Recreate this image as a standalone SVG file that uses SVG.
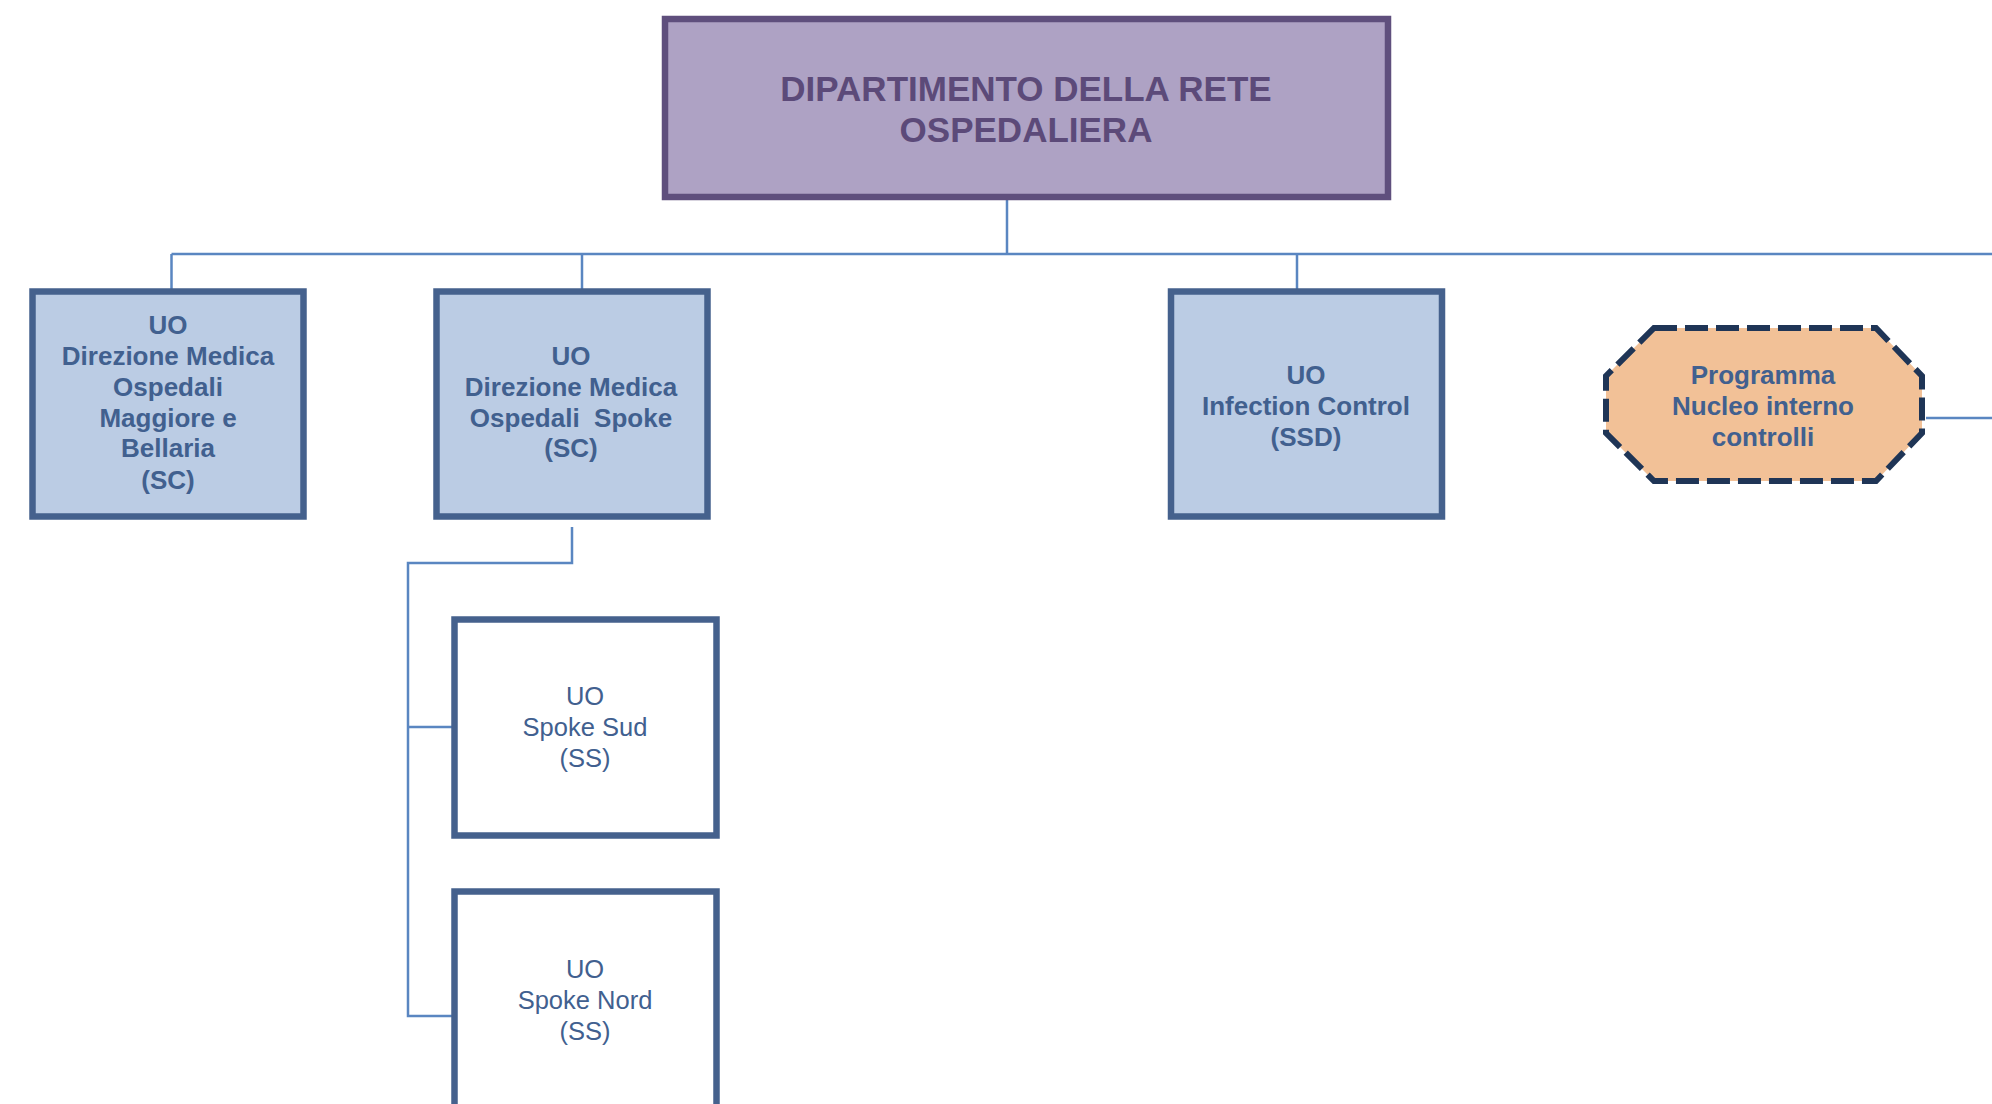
<svg xmlns="http://www.w3.org/2000/svg" width="1992" height="1104" viewBox="0 0 1992 1104">
<style>
.conn{fill:none;stroke:#5A86C1;stroke-width:2.5}
.box{fill:#BBCCE4;stroke:#45618D;stroke-width:6.5}
.wbox{fill:#FFFFFF;stroke:#45618D;stroke-width:6.5}
.t{font-family:"Liberation Sans",Arial,sans-serif;text-anchor:middle;fill:#41608F}
.tp{font-family:"Liberation Sans",Arial,sans-serif;text-anchor:middle;fill:#5C4A79;font-weight:bold;font-size:35px}
.b{font-weight:bold;font-size:26px}
.r{font-size:25.5px}
</style>
<rect width="1992" height="1104" fill="#FFFFFF"/>
<g id="connectors">
<path class="conn" d="M1007 199V254"/>
<path class="conn" d="M171.5 254H1992"/>
<path class="conn" d="M171.5 254V290M582 254V290M1297 254V290"/>
<path class="conn" d="M572 527V563H408V1016H452M408 727H452"/>
<path class="conn" d="M1926 418H1992"/>
</g>
<g id="dipartimento">
<rect x="665" y="19" width="723" height="178" fill="#AEA2C4" stroke="#5F4F7D" stroke-width="6.5"/>
<text class="tp" x="1026" y="101">DIPARTIMENTO DELLA RETE</text>
<text class="tp" x="1026" y="142">OSPEDALIERA</text>
</g>
<g id="dm-maggiore">
<rect class="box" x="32.5" y="291.5" width="271" height="225"/>
<text class="t b" x="168"><tspan x="168" y="334">UO</tspan><tspan x="168" y="365">Direzione Medica</tspan><tspan x="168" y="396">Ospedali</tspan><tspan x="168" y="427">Maggiore e</tspan><tspan x="168" y="457">Bellaria</tspan><tspan x="168" y="489">(SC)</tspan></text>
</g>
<g id="dm-spoke">
<rect class="box" x="436.5" y="291.5" width="271" height="225"/>
<text class="t b" x="571" xml:space="preserve"><tspan x="571" y="365">UO</tspan><tspan x="571" y="396">Direzione Medica</tspan><tspan x="571" y="427">Ospedali  Spoke</tspan><tspan x="571" y="457">(SC)</tspan></text>
</g>
<g id="infection-control">
<rect class="box" x="1171" y="291.5" width="271" height="225"/>
<text class="t b" x="1306"><tspan x="1306" y="384">UO</tspan><tspan x="1306" y="415">Infection Control</tspan><tspan x="1306" y="446">(SSD)</tspan></text>
</g>
<g id="nucleo-controlli">
<polygon points="1654,328 1876,328 1922,376 1922,433 1876,481 1654,481 1606,433 1606,376" fill="#F2C197" stroke="#1F3556" stroke-width="6" stroke-dasharray="23 8"/>
<text class="t b" x="1763"><tspan x="1763" y="384">Programma</tspan><tspan x="1763" y="415">Nucleo interno</tspan><tspan x="1763" y="446">controlli</tspan></text>
</g>
<g id="spoke-sud">
<rect class="wbox" x="454.5" y="619.5" width="262" height="216"/>
<text class="t r" x="585"><tspan x="585" y="705">UO</tspan><tspan x="585" y="736">Spoke Sud</tspan><tspan x="585" y="767">(SS)</tspan></text>
</g>
<g id="spoke-nord">
<rect class="wbox" x="454.5" y="891.5" width="262" height="216"/>
<text class="t r" x="585"><tspan x="585" y="978">UO</tspan><tspan x="585" y="1009">Spoke Nord</tspan><tspan x="585" y="1040">(SS)</tspan></text>
</g>
</svg>
